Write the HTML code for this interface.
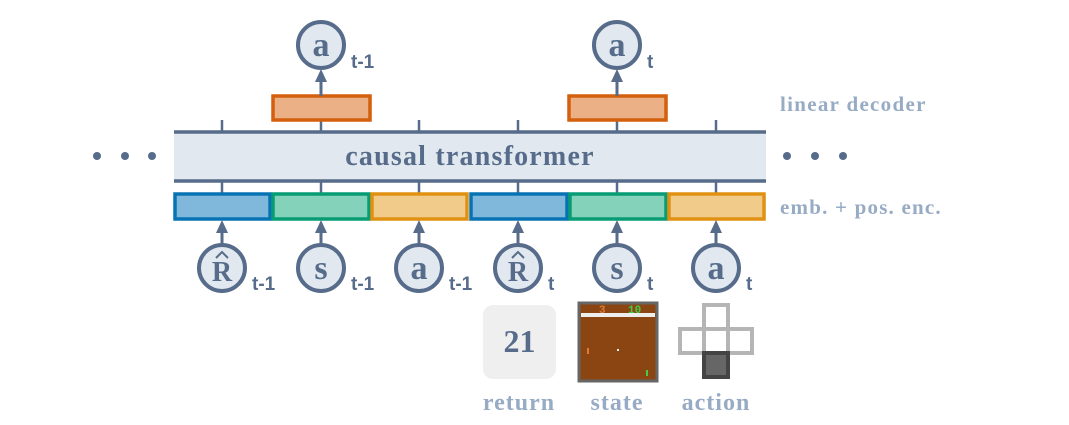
<!DOCTYPE html>
<html><head><meta charset="utf-8"><style>
body{margin:0;background:#fff}
svg text{font-family:"Liberation Serif",serif;font-weight:bold}
</style></head><body>
<svg width="1069" height="420" viewBox="0 0 1069 420" xmlns="http://www.w3.org/2000/svg">
<g fill="#566c8a">
<circle cx="97" cy="156" r="4"/><circle cx="125" cy="156" r="4"/><circle cx="152" cy="156" r="4"/>
<circle cx="787" cy="156" r="4"/><circle cx="815" cy="156" r="4"/><circle cx="843" cy="156" r="4"/>
</g>
<rect x="174" y="132" width="592" height="49" fill="#e1e8ef"/>
<line x1="174" y1="132" x2="766" y2="132" stroke="#566c8a" stroke-width="3.5"/>
<line x1="174" y1="181" x2="766" y2="181" stroke="#566c8a" stroke-width="3.5"/>
<text x="470" y="165" font-size="28" letter-spacing="1.2" fill="#566c8a" text-anchor="middle">causal transformer</text>
<g stroke="#566c8a" stroke-width="2.5">
<line x1="222" y1="120" x2="222" y2="132"/><line x1="321" y1="108" x2="321" y2="132"/><line x1="419" y1="120" x2="419" y2="132"/><line x1="518" y1="120" x2="518" y2="132"/><line x1="617" y1="108" x2="617" y2="132"/><line x1="716" y1="120" x2="716" y2="132"/>
<line x1="222" y1="181" x2="222" y2="194"/><line x1="321" y1="181" x2="321" y2="194"/><line x1="419" y1="181" x2="419" y2="194"/><line x1="518" y1="181" x2="518" y2="194"/><line x1="617" y1="181" x2="617" y2="194"/><line x1="716" y1="181" x2="716" y2="194"/>
</g>
<g stroke-width="3.5">
<rect x="175" y="194" width="95" height="25" fill="#80b8dc" stroke="#0873b4"/>
<rect x="273" y="194" width="96" height="25" fill="#84d2b9" stroke="#079c74"/>
<rect x="372" y="194" width="95" height="25" fill="#f0cb8a" stroke="#e09112"/>
<rect x="471" y="194" width="96" height="25" fill="#80b8dc" stroke="#0873b4"/>
<rect x="570" y="194" width="96" height="25" fill="#84d2b9" stroke="#079c74"/>
<rect x="669" y="194" width="95" height="25" fill="#f0cb8a" stroke="#e09112"/>
<rect x="273" y="96" width="97" height="24" fill="#ebb085" stroke="#d45f0c"/>
<rect x="569" y="96" width="97" height="24" fill="#ebb085" stroke="#d45f0c"/>
</g>
<text x="780" y="111" font-size="21" letter-spacing="1.3" fill="#97abc4">linear decoder</text>
<text x="780" y="214" font-size="21" letter-spacing="1.2" fill="#97abc4">emb. + pos. enc.</text>
<g stroke="#566c8a" stroke-width="3">
<line x1="222" y1="244" x2="222" y2="230"/><line x1="321" y1="244" x2="321" y2="230"/><line x1="419" y1="244" x2="419" y2="230"/><line x1="518" y1="244" x2="518" y2="230"/><line x1="617" y1="244" x2="617" y2="230"/><line x1="716" y1="244" x2="716" y2="230"/>
<line x1="321" y1="96" x2="321" y2="80"/><line x1="617" y1="96" x2="617" y2="80"/>
</g>
<g fill="#566c8a">
<path d="M216,233 L222,220 L228,233Z"/><path d="M315,233 L321,220 L327,233Z"/><path d="M413,233 L419,220 L425,233Z"/><path d="M512,233 L518,220 L524,233Z"/><path d="M611,233 L617,220 L623,233Z"/><path d="M710,233 L716,220 L722,233Z"/>
<path d="M315,82 L321,69 L327,82Z"/><path d="M611,82 L617,69 L623,82Z"/>
</g>
<g fill="#e1e8ef" stroke="#566c8a" stroke-width="4">
<circle cx="222" cy="268" r="23"/><circle cx="321" cy="268" r="23"/><circle cx="419" cy="268" r="23"/><circle cx="518" cy="268" r="23"/><circle cx="617" cy="268" r="23"/><circle cx="716" cy="268" r="23"/>
<circle cx="321" cy="45" r="23"/><circle cx="617" cy="45" r="23"/>
</g>
<g fill="#566c8a" font-size="34" text-anchor="middle">
<text x="222" y="281" font-size="28">R</text>
<text x="321" y="279">s</text><text x="419" y="279">a</text>
<text x="518" y="281" font-size="28">R</text>
<text x="617" y="279">s</text><text x="716" y="279">a</text>
<text x="321" y="56">a</text><text x="617" y="56">a</text>
</g>
<g fill="none" stroke="#566c8a" stroke-width="2">
<path d="M216,258 L222,252 L228,258"/><path d="M512,258 L518,252 L524,258"/>
</g>
<g fill="#566c8a" font-size="19">
<text x="252" y="290" style="font-family:'Liberation Sans',sans-serif">t-1</text>
<text x="351" y="290" style="font-family:'Liberation Sans',sans-serif">t-1</text>
<text x="449" y="290" style="font-family:'Liberation Sans',sans-serif">t-1</text>
<text x="548" y="290" style="font-family:'Liberation Sans',sans-serif">t</text>
<text x="647" y="290" style="font-family:'Liberation Sans',sans-serif">t</text>
<text x="746" y="290" style="font-family:'Liberation Sans',sans-serif">t</text>
<text x="351" y="68" style="font-family:'Liberation Sans',sans-serif">t-1</text>
<text x="647" y="68" style="font-family:'Liberation Sans',sans-serif">t</text>
</g>
<rect x="483" y="305" width="73" height="74" rx="10" fill="#efefef"/>
<text x="519.5" y="352" font-size="32" fill="#566c8a" text-anchor="middle">21</text>
<rect x="579" y="303" width="78" height="78" fill="#8b4513" stroke="#666" stroke-width="3"/>
<rect x="581" y="313" width="74" height="4" fill="#eee"/>
<text x="599" y="313" font-size="11" fill="#e0793a" style="font-family:'Liberation Mono',monospace">3</text>
<text x="628" y="313" font-size="11" fill="#4c4" style="font-family:'Liberation Mono',monospace">10</text>
<rect x="587" y="348" width="2" height="6" fill="#e0793a"/>
<rect x="617" y="349" width="2" height="2" fill="#eee"/>
<rect x="646" y="370" width="2" height="6" fill="#4c4"/>
<g fill="none" stroke="#b5b5b5" stroke-width="4">
<rect x="704" y="305" width="24" height="24"/><rect x="680" y="329" width="24" height="24"/><rect x="704" y="329" width="24" height="24"/><rect x="728" y="329" width="24" height="24"/>
</g>
<rect x="704" y="353" width="24" height="24" fill="#666" stroke="#444" stroke-width="4"/>
<g fill="#97abc4" font-size="24" letter-spacing="1" text-anchor="middle">
<text x="519" y="410">return</text><text x="617" y="410">state</text><text x="716" y="410">action</text>
</g>
</svg>
</body></html>
